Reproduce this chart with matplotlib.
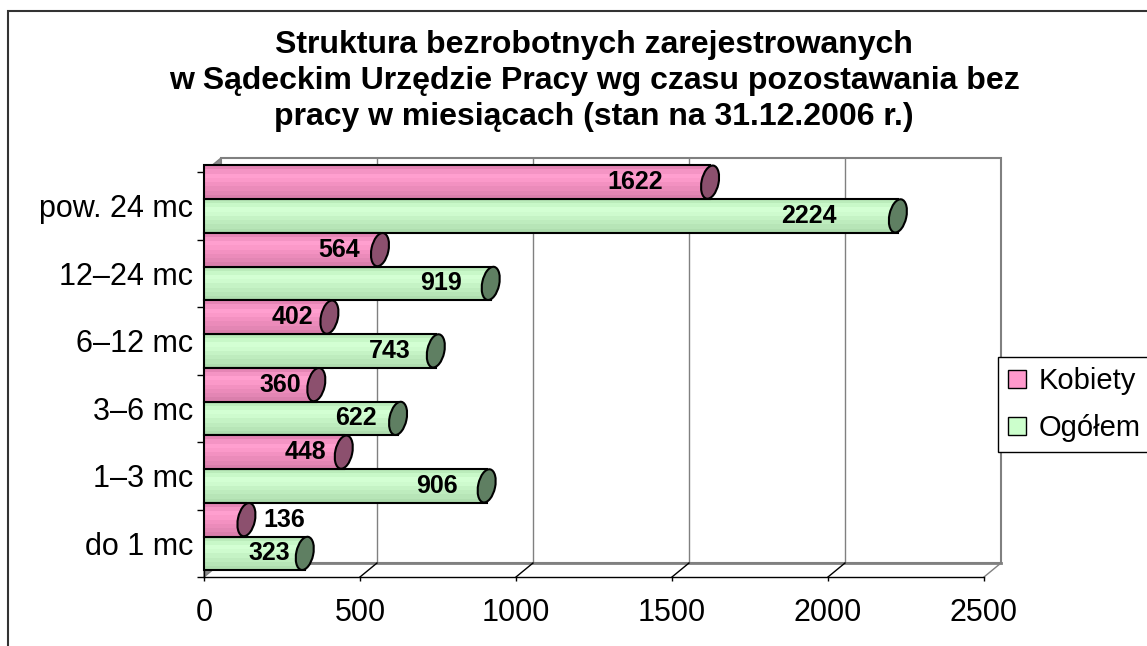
import matplotlib
matplotlib.use('Agg')
import matplotlib.pyplot as plt
import matplotlib.patches as patches
from matplotlib.transforms import ScaledTranslation
import numpy as np

plt.rcParams['font.family'] = ['Liberation Sans', 'DejaVu Sans']

# --- dane ---
kategorie = ['do 1 mc', '1–3 mc', '3–6 mc', '6–12 mc', '12–24 mc', 'pow. 24 mc']
kobiety = [136, 448, 360, 402, 564, 1622]
ogolem = [323, 906, 622, 743, 919, 2224]
serie = ['Kobiety', 'Ogółem']
x_ticks = [0, 500, 1000, 1500, 2000, 2500]
tytul = ['Struktura bezrobotnych zarejestrowanych',
         'w Sądeckim Urzędzie Pracy wg czasu pozostawania bez',
         'pracy w miesiącach (stan na 31.12.2006 r.)']

W, H = 1147, 646
fig = plt.figure(figsize=(W / 100, H / 100), dpi=100)
ax = fig.add_axes([204 / W, 69 / H, 780 / W, 405 / H])
ax.set_xlim(0, 2500)
ax.set_ylim(-0.5, 5.5)
ax.patch.set_visible(False)

# przesuniecie "glebokosci" 3D (w jednostkach danych)
dx = 17 * 2500 / 780
dy = 14 / 67.5
xmax = x_ticks[-1]
n = len(kategorie)

# sciana tylna
ax.add_patch(patches.Rectangle((dx, -0.5 + dy), xmax, n, fc='white', ec='#808080',
                               lw=1.5, clip_on=False, zorder=0.5))
for xt in x_ticks[1:-1]:
    ax.plot([xt + dx, xt + dx], [-0.5 + dy, n - 0.5 + dy], color='#808080', lw=1,
            clip_on=False, zorder=0.6)
# podloga
ax.add_patch(patches.Polygon([[0, -0.5], [xmax, -0.5], [xmax + dx, -0.5 + dy], [dx, -0.5 + dy]],
                             closed=True, fc='white', ec='none', clip_on=False, zorder=0.5))
ax.plot([dx, xmax + dx], [-0.5 + dy, -0.5 + dy], color='#808080', lw=2, clip_on=False, zorder=0.7)
for xt in x_ticks[1:]:
    c = '#808080' if xt == xmax else 'black'
    ax.plot([xt, xt + dx], [-0.5, -0.5 + dy], color=c, lw=1, clip_on=False, zorder=0.7)
# sciana lewa
ax.add_patch(patches.Polygon([[0, -0.5], [dx, -0.5 + dy], [dx, n - 0.5 + dy], [0, n - 0.5]],
                             closed=True, fc='#8c8c8c', ec='#808080', lw=1, clip_on=False, zorder=0.8))

# --- slupki (walce) ---
pink_grad = ['#e585b5', '#f494c4', '#ff9fcf', '#fb99c9', '#f391c1', '#eb8bba', '#e386b4', '#da7fac']
green_grad = ['#bbecbb', '#c8f8c8', '#d3ffd3', '#cefbce', '#c5f3c5', '#beecbe', '#b7e5b7', '#afddaf']
cap_colors = ['#8c506e', '#5f7f62']
bar_h = 0.5
split = 0.1
y = np.arange(n)
cap_h = bar_h * 67.5 / 100  # cale


def draw_cylinders(vals, y0, grad, cap_col, z):
    ns = len(grad)
    for k in range(ns):
        ax.barh(y0 + bar_h - (k + 1) * bar_h / ns, vals, height=bar_h / ns, align='edge',
                color=grad[k], lw=0, zorder=z, clip_on=False)
    ax.barh(y0, vals, height=bar_h, align='edge', fill=False, ec='black', lw=1.5, zorder=z + 0.1,
            clip_on=False)
    for v, yy in zip(vals, y0):
        tr = fig.dpi_scale_trans + ScaledTranslation(v, yy + bar_h / 2, ax.transData)
        ax.add_patch(patches.Ellipse((0, 0), 0.17, cap_h, angle=-12, fc=cap_col, ec='black',
                                     lw=1.5, transform=tr, zorder=z + 0.2, clip_on=False))


draw_cylinders(ogolem, y + split - bar_h, green_grad, cap_colors[1], 2)
draw_cylinders(kobiety, y + split, pink_grad, cap_colors[0], 3)

# etykiety wartosci
for vals, y0 in [(kobiety, y + split), (ogolem, y + split - bar_h)]:
    for v, yy in zip(vals, y0):
        if v < 200:
            ax.text(v + 55, yy + bar_h / 2, str(v), ha='left', va='center', fontsize=18,
                    weight='bold', zorder=5)
        else:
            ax.text(0.92 * v - 20, yy + bar_h / 2, str(v), ha='right', va='center', fontsize=18,
                    weight='bold', zorder=5)

# osie
ax.set_xticks(x_ticks)
ax.set_xticklabels([str(t) for t in x_ticks])
ax.set_yticks(y)
ax.set_yticklabels(kategorie)
ax.set_yticks(np.arange(-0.5, n, 1.0), minor=True)
ax.tick_params(axis='x', length=3, width=1, direction='out', labelsize=22, pad=12)
ax.tick_params(axis='y', which='major', length=0, labelsize=22, pad=8)
ax.tick_params(axis='y', which='minor', length=5, width=1, direction='out')
for s in ['top', 'right']:
    ax.spines[s].set_visible(False)
for s in ['bottom', 'left']:
    ax.spines[s].set_color('black')
    ax.spines[s].set_linewidth(1)
    ax.spines[s].set_zorder(1)

# legenda
handles = [patches.Patch(fc='#ff99cc', ec='black', lw=1), patches.Patch(fc='#ccffcc', ec='black', lw=1)]
leg = ax.legend(handles, serie, loc='upper left', bbox_to_anchor=(998 / W, 1 - 357 / H),
                bbox_transform=fig.transFigure, fontsize=21, frameon=True, fancybox=False,
                edgecolor='black', framealpha=1, borderaxespad=0, handlelength=0.6,
                handleheight=0.6, handletextpad=0.45, borderpad=0.35, labelspacing=0.65)
leg.get_frame().set_linewidth(1)

# tytul
for i, line in enumerate(tytul):
    fig.text(594 / W, 1 - (45 + 36 * i) / H, line, ha='center', va='center', fontsize=23,
             weight='bold')

# ramka wykresu
fig.patches.append(patches.Rectangle((8 / W, -0.1), 1.2, 1.1 - 11 / H, fill=False, ec='#333333',
                                     lw=1.5, transform=fig.transFigure, figure=fig))

fig.savefig('out.png', dpi=100)
